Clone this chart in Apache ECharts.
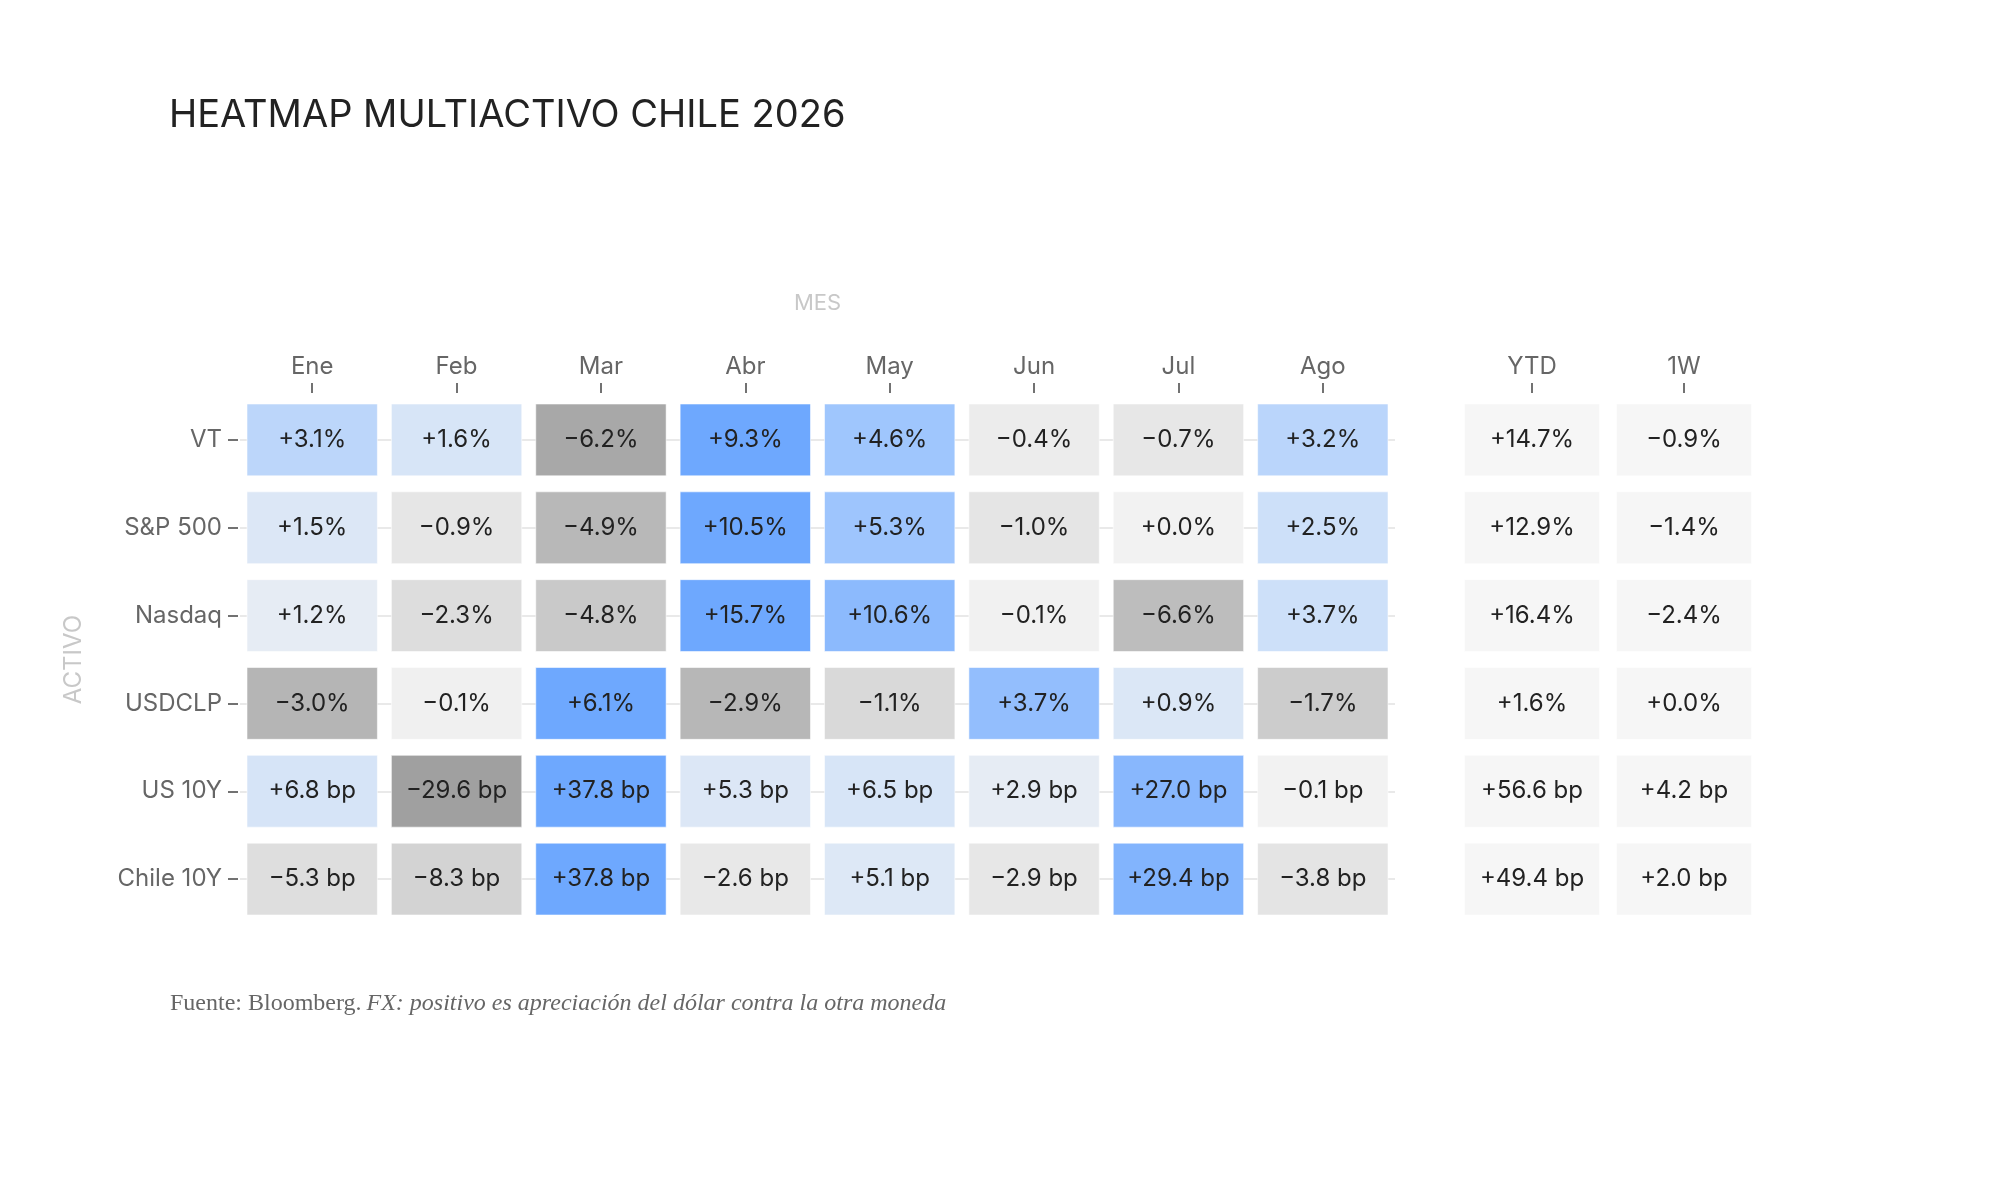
<!DOCTYPE html>
<html>
<head>
<meta charset="utf-8">
<script src="https://cdn.jsdelivr.net/npm/echarts@6/dist/echarts.min.js"></script>
<style>
  html, body { margin: 0; padding: 0; background: #fff; }
  #chart { width: 2000px; height: 1200px; }
</style>
</head>
<body>
<div id="chart"></div>
<script>
// datos
const months = ['Ene', 'Feb', 'Mar', 'Abr', 'May', 'Jun', 'Jul', 'Ago'];
const summaryCols = ['YTD', '1W'];
const assets = ['VT', 'S&P 500', 'Nasdaq', 'USDCLP', 'US 10Y', 'Chile 10Y'];
const units = ['%', '%', '%', '%', ' bp', ' bp'];

const vt       = [3.1, 1.6, -6.2, 9.3, 4.6, -0.4, -0.7, 3.2];
const sp500    = [1.5, -0.9, -4.9, 10.5, 5.3, -1.0, 0.0, 2.5];
const nasdaq   = [1.2, -2.3, -4.8, 15.7, 10.6, -0.1, -6.6, 3.7];
const usdclp   = [-3.0, -0.1, 6.1, -2.9, -1.1, 3.7, 0.9, -1.7];
const us10y    = [6.8, -29.6, 37.8, 5.3, 6.5, 2.9, 27.0, -0.1];
const chile10y = [-5.3, -8.3, 37.8, -2.6, 5.1, -2.9, 29.4, -3.8];

const ytd     = [14.7, 12.9, 16.4, 1.6, 56.6, 49.4];
const oneWeek = [-0.9, -1.4, -2.4, 0.0, 4.2, 2.0];

const rows = [vt, sp500, nasdaq, usdclp, us10y, chile10y];

// gris (negativo) -> neutro -> azul (positivo)
const scaleColors = ['#969696', '#a2a2a2', '#b4b4b4', '#cfcfcf', '#f2f2f2',
                     '#cbdff9', '#9ec5fd', '#84b5fd', '#6ea8fe'];

const FONT = 'Inter, "Noto Sans", sans-serif';
const SERIF = '"Liberation Serif", "DejaVu Serif", serif';

function fmt(v, unit) {
  const s = v >= 0 ? '+' : '\u2212';
  return s + Math.abs(v).toFixed(1) + unit;
}

function cellRenderer(fixedFill, gapX, gapY) {
  return function (params, api) {
    const c = api.coord([api.value(0), api.value(1)]);
    const size = api.size([1, 1]);
    const w = size[0] - gapX, h = size[1] - gapY;
    const row = api.value(1);
    return {
      type: 'rect',
      shape: { x: c[0] - w / 2, y: c[1] - h / 2, width: w, height: h },
      style: {
        fill: fixedFill || api.visual('color'),
        stroke: 'rgba(255,255,255,0.55)',
        lineWidth: 1
      },
      textContent: {
        style: { text: fmt(api.value(2), units[row]), fill: '#222', font: '24px ' + FONT }
      },
      textConfig: { position: 'inside' }
    };
  };
}

const axisLabelStyle = { color: '#666', fontSize: 24, fontFamily: FONT };
const tickStyle = { show: true, length: 10, lineStyle: { color: '#444', width: 1.5 } };

const series = rows.map((vals, r) => ({
  type: 'custom',
  xAxisIndex: 0,
  yAxisIndex: 0,
  renderItem: cellRenderer(null, 14, 16),
  encode: { x: 0, y: 1 },
  data: vals.map((v, c) => [c, r, v]),
  z: 2,
  markLine: r === 0 ? {
    silent: true,
    z: 1,
    symbol: 'none',
    label: { show: false },
    lineStyle: { color: '#e2e2e2', width: 1.5, type: 'solid' },
    data: assets.map(a => ({ yAxis: a }))
  } : undefined
}));

const summaryData = [];
assets.forEach((a, r) => {
  summaryData.push([0, r, ytd[r]]);
  summaryData.push([1, r, oneWeek[r]]);
});
series.push({
  type: 'custom',
  xAxisIndex: 1,
  yAxisIndex: 1,
  renderItem: cellRenderer('#f6f6f6', 17, 16),
  encode: { x: 0, y: 1 },
  data: summaryData,
  z: 2
});

const visualMaps = rows.map((vals, r) => {
  const m = Math.max(...vals.map(Math.abs));
  return {
    type: 'continuous',
    show: false,
    seriesIndex: r,
    dimension: 2,
    min: -m,
    max: m,
    inRange: { color: scaleColors }
  };
});

const option = {
  animation: false,
  backgroundColor: '#fff',
  title: [
    {
      text: 'HEATMAP MULTIACTIVO CHILE 2026',
      left: 164,
      top: 92,
      textStyle: { color: '#222', fontSize: 38, fontWeight: 'normal', fontFamily: FONT }
    },
    {
      text: '{a|Fuente: Bloomberg.} {b|FX: positivo es apreciación del dólar contra la otra moneda}',
      left: 165,
      top: 987,
      textStyle: {
        fontWeight: 'normal',
        rich: {
          a: { color: '#666', fontSize: 24, fontWeight: 'normal', fontFamily: SERIF },
          b: { color: '#666', fontSize: 24, fontWeight: 'normal', fontStyle: 'italic', fontFamily: SERIF }
        }
      }
    }
  ],
  grid: [
    { left: 240, top: 396, width: 1155, height: 527 },
    { left: 1456, top: 396, width: 304, height: 527 }
  ],
  xAxis: [
    {
      type: 'category',
      gridIndex: 0,
      data: months,
      position: 'top',
      offset: 3,
      name: 'MES',
      nameLocation: 'middle',
      nameGap: 79,
      nameTextStyle: { color: '#c8c8c8', fontSize: 22, fontFamily: FONT },
      axisLine: { show: false },
      axisTick: Object.assign({ alignWithLabel: true }, tickStyle),
      axisLabel: Object.assign({ margin: 14 }, axisLabelStyle),
      splitLine: { show: false }
    },
    {
      type: 'category',
      gridIndex: 1,
      data: summaryCols,
      position: 'top',
      offset: 3,
      axisLine: { show: false },
      axisTick: Object.assign({ alignWithLabel: true }, tickStyle),
      axisLabel: Object.assign({ margin: 14 }, axisLabelStyle),
      splitLine: { show: false }
    }
  ],
  yAxis: [
    {
      type: 'category',
      gridIndex: 0,
      data: assets,
      inverse: true,
      offset: 2,
      name: 'ACTIVO',
      nameLocation: 'middle',
      nameGap: 152,
      nameTextStyle: { color: '#c8c8c8', fontSize: 24, fontFamily: FONT },
      axisLine: { show: false },
      axisTick: Object.assign({ alignWithLabel: true }, tickStyle),
      axisLabel: Object.assign({ margin: 16 }, axisLabelStyle),
      splitLine: { show: false }
    },
    {
      type: 'category',
      gridIndex: 1,
      data: assets,
      inverse: true,
      show: false
    }
  ],
  visualMap: visualMaps,
  series: series
};

const chart = echarts.init(document.getElementById('chart'));
chart.setOption(option);
</script>
</body>
</html>
